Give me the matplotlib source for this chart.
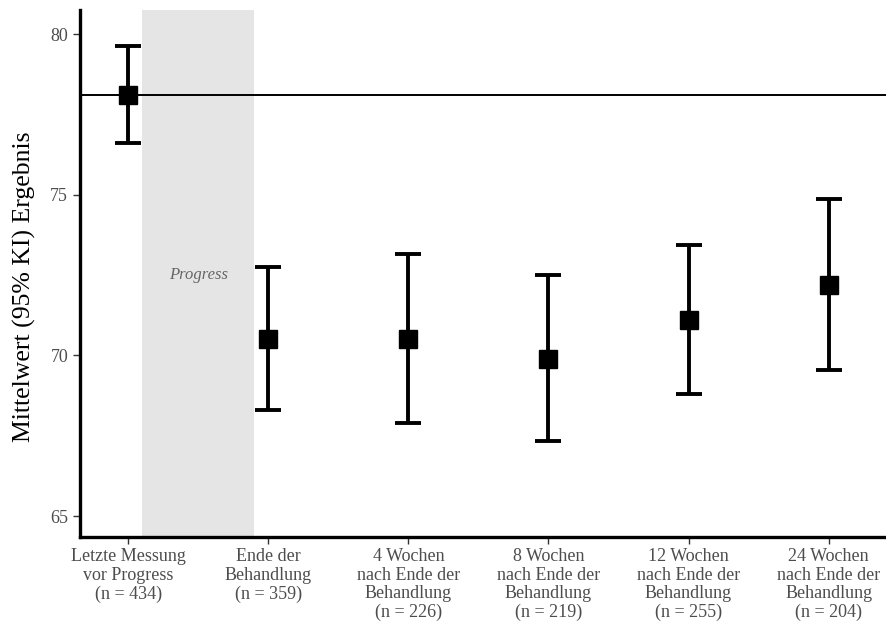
import matplotlib
matplotlib.use("Agg")
import matplotlib.pyplot as plt

plt.rcParams['font.family'] = ['Liberation Serif', 'DejaVu Serif']

labels = [
    "Letzte Messung\nvor Progress\n(n = 434)",
    "Ende der\nBehandlung\n(n = 359)",
    "4 Wochen\nnach Ende der\nBehandlung\n(n = 226)",
    "8 Wochen\nnach Ende der\nBehandlung\n(n = 219)",
    "12 Wochen\nnach Ende der\nBehandlung\n(n = 255)",
    "24 Wochen\nnach Ende der\nBehandlung\n(n = 204)",
]
means = [78.1, 70.5, 70.5, 69.9, 71.1, 72.2]
lower = [76.6, 68.3, 67.9, 67.35, 68.8, 69.55]
upper = [79.63, 72.75, 73.15, 72.5, 73.45, 74.87]
baseline = 78.1

x = list(range(1, len(labels) + 1))
yerr = [[m - lo for m, lo in zip(means, lower)],
        [hi - m for m, hi in zip(means, upper)]]

fig = plt.figure(figsize=(8.86, 6.24), dpi=100)
ax = fig.add_axes([0.0903, 0.1394, 0.9097, 0.8446])

# shaded progress interval between first and second measurement
ax.axvspan(1.1, 1.9, color='#e5e5e5', lw=0, zorder=0)
ax.text(1.5, 72.5, "Progress", style='italic', color='#666666',
        fontsize=12, ha='center', va='center')

ax.axhline(baseline, color='black', lw=1.4, zorder=1)

ax.errorbar(x, means, yerr=yerr, fmt='s', color='black', ms=13,
            elinewidth=2.8, capsize=9.5, capthick=2.8, zorder=3)

ax.set_xlim(0.655, 6.41)
ax.set_ylim(64.35, 80.75)
ax.set_yticks([65, 70, 75, 80])
ax.set_xticks(x)
ax.set_xticklabels(labels, linespacing=1.12)
ax.set_ylabel("Mittelwert (95% KI) Ergebnis", fontsize=18.5)
ax.yaxis.set_label_coords(-0.054, 0.474)

for side in ['top', 'right']:
    ax.spines[side].set_visible(False)
for side in ['left', 'bottom']:
    ax.spines[side].set_linewidth(2.4)
ax.tick_params(axis='both', length=5, width=1, color='#333333',
               labelcolor='#4d4d4d', labelsize=13)
ax.tick_params(axis='x', pad=3)

fig.savefig("out.png", dpi=100)
